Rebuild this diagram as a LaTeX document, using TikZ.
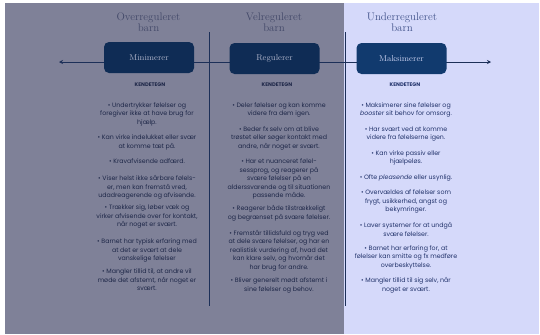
\documentclass[tikz,border=0pt]{standalone}
\usepackage{fontspec}
\usetikzlibrary{arrows.meta}

\newfontfamily\bodyfont{Poppins}

\definecolor{graabund}{HTML}{7F8198}
\definecolor{lillabund}{HTML}{D5D9FA}
\definecolor{mork}{HTML}{0F2C55}
\definecolor{morkblaa}{HTML}{113A6E}
\definecolor{streg}{HTML}{1C2F58}
\definecolor{overgraa}{HTML}{434969}
\definecolor{overblaa}{HTML}{41528A}
\definecolor{tekstgraa}{HTML}{1E2748}
\definecolor{tekstblaa}{HTML}{22336B}
\definecolor{boksgraa}{HTML}{B0B5CB}
\definecolor{boksblaa}{HTML}{C9D0EF}

\tikzset{
  overskrift/.style={align=center, inner sep=0pt, font=\fontsize{11}{11.5}\selectfont},
  boks/.style={rounded corners=5bp, minimum width=90bp, minimum height=31bp,
    inner sep=0pt, font=\fontsize{8.5}{9}\selectfont},
  kendetegn/.style={inner sep=0pt, font=\bodyfont\bfseries\fontsize{5.2}{6}\selectfont},
  punkt/.style={anchor=north, align=center, inner sep=0pt,
    font=\bodyfont\fontsize{6.3}{8.5}\selectfont},
  akse/.style={line width=0.9bp, draw=streg},
  skel/.style={line width=0.8bp, draw=streg}
}

\begin{document}
\begin{tikzpicture}[x=1bp,y=-1bp]
\useasboundingbox (0,0) rectangle (540,334);
\fill[white] (0,0) rectangle (540,334);
\fill[graabund] (5,3) rectangle (344,334);
\fill[lillabund] (344,3) rectangle (539,334);

% akse og skillelinjer
\coordinate (venstre) at (59,62);
\coordinate (hoejre) at (491,62);
\draw[akse, {Stealth[length=4bp,width=4bp]}-{Stealth[length=4bp,width=4bp]}] (venstre) -- (hoejre);

\coordinate (skel1a) at (209.5,32);
\coordinate (skel1b) at (209.5,306);
\coordinate (skel2a) at (345,32);
\coordinate (skel2b) at (345,306);
\draw[skel] (skel1a) -- (skel1b);
\draw[skel] (skel2a) -- (skel2b);

% overskrifter
\node[overskrift, text=overgraa] (overhead) at (148.5,22) {Overreguleret\\barn};
\node[overskrift, text=overgraa] (velhead) at (274,22) {Velreguleret\\barn};
\node[overskrift, text=overblaa] (underhead) at (402,22) {Underreguleret\\barn};

\node[boks, fill=mork, text=boksgraa] (mini) at (149,57.5) {Minimerer};
\node[boks, fill=mork, text=boksgraa] (reg) at (274.5,58.5) {Regulerer};
\node[boks, fill=morkblaa, text=boksblaa] (maks) at (401.5,58.5) {Maksimerer};

\node[kendetegn, text=tekstgraa] (kend1) at (150,85) {KENDETEGN};
\node[kendetegn, text=tekstgraa] (kend2) at (277,85) {KENDETEGN};
\node[kendetegn, text=tekstblaa] (kend3) at (405,85) {KENDETEGN};

% overreguleret
\node[punkt, text=tekstgraa] (o1) at (147,102.5) {• Undertrykker følelser og\\foregiver ikke at have brug for\\hjælp.};
\node[punkt, text=tekstgraa] (o2) at (147,134.9) {• Kan virke indelukket eller svær\\at komme tæt på.};
\node[punkt, text=tekstgraa] (o3) at (147,158.2) {• Kravafvisende adfærd.};
\node[punkt, text=tekstgraa] (o4) at (147,175.2) {• Viser helst ikke sårbare følels-\\er, men kan fremstå vred,\\udadreagerende og afvisende.};
\node[punkt, text=tekstgraa] (o5) at (147,204.9) {• Trækker sig, løber væk og\\virker afvisende over for kontakt,\\når noget er svært.};
\node[punkt, text=tekstgraa] (o6) at (147,238.9) {• Barnet har typisk erfaring med\\at det er svært at dele\\vanskelige følelser};
\node[punkt, text=tekstgraa] (o7) at (147,268.9) {• Mangler tillid til, at andre vil\\møde det afstemt, når noget er\\svært.};

% velreguleret
\node[punkt, text=tekstgraa] (v1) at (279,102.5) {• Deler følelser og kan komme\\videre fra dem igen.};
\node[punkt, text=tekstgraa] (v2) at (279,126.2) {• Beder fx selv om at blive\\trøstet eller søger kontakt med\\andre, når noget er svært.};
\node[punkt, text=tekstgraa] (v3) at (279,158.9) {• Har et nuanceret følel-\\sessprog, og reagerer på\\svære følelser på en\\alderssvarende og til situationen\\passende måde.};
\node[punkt, text=tekstgraa] (v4) at (279,205.5) {• Reagerer både tilstrækkeligt\\og begrænset på svære følelser.};
\node[punkt, text=tekstgraa] (v5) at (279,229.9) {• Fremstår tillidsfuld og tryg ved\\at dele svære følelser, og har en\\realistisk vurdering af, hvad det\\kan klare selv, og hvornår det\\har brug for andre.};
\node[punkt, text=tekstgraa] (v6) at (279,277.9) {• Bliver generelt mødt afstemt i\\sine følelser og behov.};

% underreguleret
\node[punkt, text=tekstblaa] (u1) at (406,102.5) {• Maksimerer sine følelser og\\\textit{booster} sit behov for omsorg.};
\node[punkt, text=tekstblaa] (u2) at (406,126.5) {• Har svært ved at komme\\videre fra følelserne igen.};
\node[punkt, text=tekstblaa] (u3) at (406,150.5) {• Kan virke passiv eller\\hjælpeløs.};
\node[punkt, text=tekstblaa] (u4) at (406,174.5) {• Ofte \textit{pleasende} eller usynlig.};
\node[punkt, text=tekstblaa] (u5) at (406,189.9) {• Overvældes af følelser som\\frygt, usikkerhed, angst og\\bekymringer.};
\node[punkt, text=tekstblaa] (u6) at (406,222.2) {• Laver systemer for at undgå\\svære følelser.};
\node[punkt, text=tekstblaa] (u7) at (406,245.5) {• Barnet har erfaring for, at\\følelser kan smitte og fx medføre\\overbeskyttelse.};
\node[punkt, text=tekstblaa] (u8) at (406,277.2) {• Mangler tillid til sig selv, når\\noget er svært.};
\end{tikzpicture}
\end{document}
